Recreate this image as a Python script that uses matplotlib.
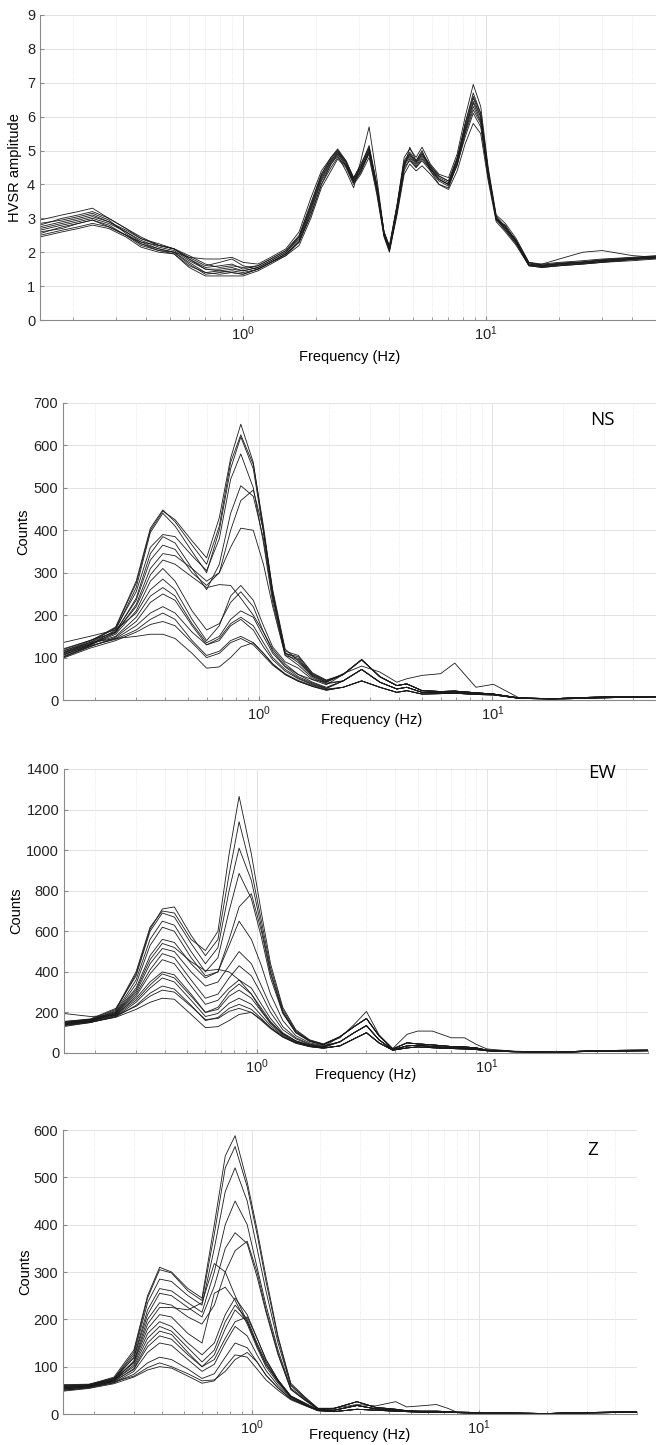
import matplotlib
matplotlib.use("Agg")
import matplotlib.pyplot as plt
from matplotlib.ticker import LogLocator, NullFormatter

plt.rcParams['font.family'] = ['Liberation Sans', 'DejaVu Sans']

# ---------------- HVSR (panneau du haut) ----------------
freq_hv = [0.146, 0.18, 0.21, 0.24, 0.28, 0.33, 0.38, 0.45, 0.52, 0.6, 0.7, 0.8, 0.9, 1.0,
           1.15, 1.3, 1.5, 1.7, 1.9, 2.1, 2.3, 2.45, 2.65, 2.85, 3.05, 3.3, 3.55, 3.8, 4.0,
           4.3, 4.6, 4.85, 5.15, 5.45, 5.9, 6.4, 7.0, 7.6, 8.2, 8.85, 9.5, 10.2, 11.0, 12.0,
           13.3, 15.0, 17, 20, 25, 30, 40, 50]

hv_a = [2.65, 2.8, 2.9, 3.0, 2.85, 2.6, 2.35, 2.15, 2.05, 1.75, 1.5, 1.5, 1.55, 1.45, 1.55, 1.75, 2.0, 2.4, 3.3, 4.2, 4.7, 4.95, 4.6, 4.1, 4.4, 5.0, 3.9, 2.55, 2.1, 3.3, 4.6, 4.85, 4.6, 4.85, 4.5, 4.2, 4.05, 4.7, 5.6, 6.4, 5.9, 4.3, 3.0, 2.7, 2.3, 1.65, 1.6, 1.65, 1.7, 1.75, 1.8, 1.85]
hv_b = [2.95, 3.1, 3.2, 3.3, 3.0, 2.7, 2.45, 2.2, 2.1, 1.85, 1.8, 1.8, 1.85, 1.7, 1.65, 1.85, 2.1, 2.6, 3.6, 4.4, 4.8, 5.0, 4.7, 4.2, 4.6, 5.1, 4.0, 2.6, 2.2, 3.4, 4.8, 5.05, 4.8, 5.1, 4.6, 4.3, 4.2, 4.9, 6.0, 6.95, 6.3, 4.5, 3.1, 2.85, 2.4, 1.7, 1.65, 1.7, 1.75, 1.8, 1.85, 1.9]
hv_c = [2.45, 2.6, 2.7, 2.8, 2.7, 2.45, 2.15, 2.0, 1.95, 1.55, 1.3, 1.3, 1.3, 1.3, 1.45, 1.65, 1.9, 2.2, 3.0, 3.9, 4.4, 4.75, 4.5, 4.0, 4.3, 4.8, 3.7, 2.45, 2.0, 3.1, 4.3, 4.6, 4.4, 4.55, 4.3, 4.0, 3.85, 4.4, 5.2, 5.8, 5.5, 4.1, 2.9, 2.6, 2.2, 1.6, 1.55, 1.6, 1.65, 1.7, 1.75, 1.8]
hv_d = [2.85, 2.95, 3.05, 3.15, 2.95, 2.55, 2.25, 2.1, 2.0, 1.85, 1.6, 1.7, 1.8, 1.6, 1.5, 1.7, 1.95, 2.3, 3.1, 4.0, 4.6, 4.85, 4.4, 3.9, 4.7, 5.7, 4.2, 2.6, 2.05, 3.2, 4.5, 5.1, 4.7, 5.0, 4.4, 4.0, 3.9, 4.6, 5.8, 6.7, 6.1, 4.4, 2.95, 2.8, 2.3, 1.6, 1.65, 1.8, 2.0, 2.05, 1.9, 1.85]
hv_e = [2.55, 2.75, 2.85, 2.95, 2.8, 2.5, 2.3, 2.1, 2.0, 1.7, 1.4, 1.35, 1.4, 1.35, 1.5, 1.7, 1.95, 2.3, 3.2, 4.1, 4.6, 4.9, 4.55, 4.05, 4.35, 4.95, 3.85, 2.5, 2.05, 3.2, 4.5, 4.7, 4.5, 4.7, 4.4, 4.1, 3.95, 4.6, 5.4, 6.1, 5.7, 4.2, 3.0, 2.65, 2.25, 1.6, 1.55, 1.6, 1.65, 1.7, 1.78, 1.82]
hv_f = [2.75, 2.9, 3.0, 3.1, 2.9, 2.65, 2.4, 2.25, 2.1, 1.8, 1.55, 1.6, 1.65, 1.5, 1.6, 1.8, 2.05, 2.5, 3.45, 4.3, 4.75, 5.0, 4.65, 4.15, 4.5, 5.05, 3.95, 2.6, 2.15, 3.35, 4.7, 4.95, 4.7, 4.95, 4.55, 4.25, 4.1, 4.8, 5.8, 6.6, 6.1, 4.4, 3.05, 2.75, 2.35, 1.7, 1.62, 1.68, 1.72, 1.78, 1.84, 1.88]
hv_g = [2.6, 2.7, 2.85, 2.95, 2.75, 2.5, 2.2, 2.05, 2.0, 1.65, 1.35, 1.4, 1.45, 1.4, 1.5, 1.7, 1.9, 2.3, 3.1, 4.0, 4.5, 4.8, 4.55, 4.05, 4.4, 4.9, 3.8, 2.5, 2.05, 3.2, 4.4, 4.75, 4.5, 4.75, 4.45, 4.15, 4.0, 4.55, 5.5, 6.2, 5.8, 4.25, 3.0, 2.7, 2.3, 1.62, 1.58, 1.63, 1.68, 1.73, 1.8, 1.84]
hv_h = [2.7, 2.85, 2.95, 3.05, 2.9, 2.6, 2.3, 2.2, 2.1, 1.9, 1.65, 1.55, 1.6, 1.55, 1.6, 1.8, 2.05, 2.45, 3.4, 4.3, 4.8, 5.05, 4.7, 4.2, 4.55, 5.15, 4.0, 2.6, 2.15, 3.4, 4.65, 4.9, 4.65, 4.9, 4.5, 4.15, 4.0, 4.75, 5.7, 6.55, 6.0, 4.35, 3.0, 2.75, 2.35, 1.68, 1.62, 1.66, 1.71, 1.76, 1.82, 1.86]
hv_i = [2.5, 2.65, 2.75, 2.85, 2.75, 2.5, 2.25, 2.05, 1.95, 1.6, 1.4, 1.45, 1.4, 1.35, 1.5, 1.7, 1.95, 2.35, 3.25, 4.15, 4.65, 4.9, 4.55, 4.1, 4.45, 4.95, 3.85, 2.5, 2.1, 3.25, 4.55, 4.8, 4.55, 4.8, 4.45, 4.15, 4.0, 4.65, 5.55, 6.3, 5.85, 4.25, 2.95, 2.65, 2.25, 1.62, 1.57, 1.62, 1.67, 1.72, 1.79, 1.83]
hv_j = [2.8, 3.0, 3.1, 3.2, 3.0, 2.7, 2.4, 2.2, 2.1, 1.8, 1.5, 1.45, 1.5, 1.45, 1.55, 1.75, 2.0, 2.45, 3.35, 4.25, 4.7, 4.95, 4.65, 4.15, 4.5, 5.05, 3.9, 2.55, 2.1, 3.3, 4.6, 4.9, 4.65, 4.9, 4.55, 4.25, 4.1, 4.75, 5.65, 6.45, 6.0, 4.35, 3.05, 2.75, 2.3, 1.65, 1.6, 1.66, 1.7, 1.76, 1.82, 1.86]
hv_curves = [hv_a, hv_b, hv_c, hv_d, hv_e, hv_f, hv_g, hv_h, hv_i, hv_j]

# ---------------- spectres : partie basse frequence (par courbe) ----------------
freq_low = [0.145, 0.19, 0.245, 0.3, 0.345, 0.39, 0.44, 0.52, 0.6, 0.68, 0.76, 0.84,
            0.95, 1.05, 1.15, 1.3, 1.48, 1.7, 1.95]

ns_low = [
    [110, 135, 170, 275, 400, 445, 425, 375, 335, 430, 570, 650, 560, 400, 250, 110, 102, 62, 46],
    [115, 138, 172, 280, 405, 448, 420, 365, 320, 410, 560, 625, 555, 410, 255, 115, 105, 64, 47],
    [105, 130, 165, 265, 395, 440, 410, 350, 300, 400, 545, 620, 545, 395, 245, 110, 98, 60, 45],
    [120, 140, 168, 255, 360, 390, 385, 340, 305, 380, 520, 580, 500, 370, 230, 105, 95, 58, 43],
    [100, 128, 160, 240, 345, 385, 370, 310, 260, 320, 440, 505, 480, 380, 240, 110, 88, 55, 40],
    [112, 135, 162, 235, 330, 365, 355, 300, 270, 300, 400, 470, 495, 400, 260, 120, 92, 57, 42],
    [108, 132, 158, 225, 310, 345, 340, 310, 280, 300, 360, 405, 400, 320, 220, 105, 82, 52, 38],
    [118, 140, 160, 220, 295, 330, 320, 290, 265, 272, 270, 240, 200, 160, 120, 85, 60, 48, 42],
    [105, 130, 155, 210, 280, 310, 280, 210, 165, 180, 230, 255, 220, 160, 115, 80, 60, 42, 30],
    [135, 150, 165, 205, 260, 285, 260, 190, 140, 175, 245, 270, 235, 175, 125, 90, 75, 48, 36],
    [110, 132, 150, 195, 245, 265, 245, 180, 135, 150, 190, 210, 195, 150, 110, 78, 55, 40, 28],
    [100, 125, 148, 185, 230, 250, 235, 175, 130, 145, 180, 195, 175, 135, 100, 72, 52, 38, 27],
    [102, 126, 145, 175, 205, 220, 205, 160, 130, 140, 175, 190, 165, 125, 95, 68, 50, 36, 26],
    [106, 128, 143, 165, 190, 205, 190, 140, 105, 115, 140, 150, 135, 110, 85, 62, 46, 34, 24],
    [98, 122, 140, 160, 178, 185, 175, 135, 100, 110, 135, 145, 130, 105, 82, 60, 44, 32, 23],
    [115, 135, 145, 150, 155, 155, 145, 110, 75, 78, 100, 125, 135, 110, 85, 60, 44, 32, 23],
]
ns_tail_freq = [2.3, 2.76, 3.3, 3.9, 4.3, 5.0, 6.0, 6.9, 8.5, 10.1, 13, 18, 25, 35, 50]
ns_tails = {
    'high': [60, 95, 55, 34, 38, 22, 20, 21, 17, 14, 5, 3, 6, 8, 8],
    'mid': [45, 72, 42, 26, 30, 18, 18, 19, 15, 13, 4, 3, 5, 7, 8],
    'low': [30, 45, 30, 18, 22, 14, 15, 16, 13, 12, 4, 2, 4, 6, 7],
    'out': [62, 80, 66, 42, 50, 58, 62, 87, 30, 37, 5, 3, 6, 8, 8],
}
ns_pick = ['high', 'high', 'high', 'high', 'mid', 'high', 'mid', 'out',
           'mid', 'high', 'mid', 'mid', 'low', 'low', 'low', 'low']

ew_low = [
    [150, 165, 215, 400, 620, 700, 690, 560, 505, 600, 980, 1265, 980, 690, 440, 225, 115, 65, 45],
    [140, 160, 210, 390, 610, 710, 720, 580, 480, 560, 880, 1140, 900, 650, 420, 215, 110, 62, 43],
    [155, 168, 220, 380, 600, 690, 670, 540, 440, 520, 800, 1010, 850, 620, 400, 205, 105, 60, 42],
    [145, 162, 205, 360, 560, 650, 630, 500, 400, 470, 700, 885, 760, 570, 370, 195, 100, 58, 40],
    [135, 155, 200, 340, 530, 620, 600, 470, 380, 400, 560, 720, 785, 600, 390, 200, 100, 57, 40],
    [150, 165, 200, 320, 480, 560, 545, 440, 370, 400, 530, 650, 560, 430, 290, 160, 85, 50, 36],
    [145, 160, 195, 310, 460, 540, 520, 450, 405, 412, 400, 360, 290, 210, 150, 95, 60, 40, 30],
    [140, 155, 195, 300, 440, 515, 500, 400, 330, 350, 430, 500, 440, 330, 230, 130, 75, 45, 33],
    [150, 160, 190, 290, 410, 490, 470, 360, 270, 290, 370, 430, 380, 290, 200, 115, 70, 42, 30],
    [135, 150, 185, 280, 390, 460, 440, 330, 240, 260, 320, 360, 320, 240, 170, 100, 60, 38, 28],
    [155, 165, 190, 270, 350, 400, 385, 290, 200, 225, 300, 340, 290, 220, 155, 95, 58, 36, 27],
    [145, 158, 185, 260, 335, 390, 370, 280, 200, 215, 280, 310, 270, 205, 145, 90, 55, 35, 26],
    [140, 155, 180, 250, 320, 370, 350, 260, 180, 195, 245, 270, 240, 185, 135, 85, 52, 33, 25],
    [130, 150, 178, 235, 295, 330, 315, 235, 160, 175, 220, 240, 215, 170, 125, 80, 50, 32, 24],
    [195, 180, 185, 230, 280, 310, 300, 230, 165, 170, 205, 220, 200, 160, 120, 78, 48, 31, 23],
    [140, 152, 176, 215, 250, 270, 265, 190, 125, 130, 160, 190, 200, 165, 125, 80, 50, 32, 24],
]
ew_tail_freq = [2.3, 2.65, 3.0, 3.4, 3.9, 4.5, 5.0, 5.8, 7.0, 8.0, 9.0, 10.0, 13, 20, 30, 50]
ew_tails = {
    'high': [80, 130, 170, 85, 20, 50, 45, 40, 32, 30, 25, 14, 8, 4, 12, 14],
    'mid': [55, 100, 135, 65, 16, 35, 38, 32, 26, 24, 20, 12, 7, 3, 10, 12],
    'low': [35, 70, 100, 50, 14, 25, 30, 26, 22, 20, 17, 11, 6, 3, 9, 11],
    'out': [75, 140, 205, 90, 22, 92, 108, 108, 75, 75, 42, 20, 9, 4, 12, 14],
}
ew_pick = ['high', 'high', 'out', 'high', 'high', 'mid', 'mid', 'mid',
           'high', 'mid', 'mid', 'low', 'low', 'low', 'low', 'low']

z_low = [
    [60, 62, 78, 135, 250, 310, 300, 265, 245, 400, 545, 588, 490, 390, 290, 164, 65, 37, 12],
    [55, 60, 75, 130, 245, 305, 298, 260, 240, 380, 520, 565, 480, 380, 280, 160, 62, 35, 12],
    [58, 61, 74, 125, 235, 285, 280, 250, 230, 350, 470, 520, 450, 350, 260, 150, 60, 34, 11],
    [52, 58, 72, 120, 220, 265, 260, 235, 215, 300, 400, 450, 400, 310, 230, 135, 55, 32, 11],
    [62, 63, 76, 118, 210, 255, 250, 225, 205, 270, 350, 383, 360, 290, 215, 125, 52, 30, 10],
    [50, 56, 70, 112, 200, 235, 230, 205, 190, 230, 300, 345, 365, 300, 220, 128, 52, 30, 10],
    [56, 60, 72, 110, 190, 225, 225, 220, 235, 318, 300, 250, 195, 145, 105, 70, 38, 24, 9],
    [60, 62, 74, 108, 180, 210, 205, 170, 150, 255, 268, 240, 190, 140, 100, 65, 36, 22, 8],
    [54, 58, 70, 104, 170, 195, 185, 150, 125, 150, 210, 245, 210, 160, 115, 72, 38, 23, 8],
    [58, 61, 72, 100, 160, 185, 175, 140, 110, 135, 195, 230, 200, 150, 110, 70, 37, 22, 8],
    [52, 57, 68, 96, 150, 175, 168, 130, 100, 125, 180, 220, 195, 145, 105, 68, 36, 21, 8],
    [55, 59, 70, 94, 142, 165, 158, 125, 100, 115, 160, 195, 205, 160, 115, 72, 38, 22, 8],
    [50, 55, 66, 90, 130, 150, 145, 115, 90, 105, 150, 185, 165, 125, 92, 60, 34, 20, 8],
    [53, 57, 66, 84, 108, 120, 115, 95, 75, 85, 120, 150, 140, 110, 82, 55, 32, 19, 7],
    [48, 54, 64, 78, 93, 100, 97, 80, 65, 70, 100, 125, 120, 95, 72, 50, 30, 18, 7],
    [56, 60, 68, 80, 98, 108, 100, 85, 70, 72, 90, 115, 130, 110, 82, 55, 32, 19, 7],
]
z_tail_freq = [2.3, 2.9, 3.5, 4.3, 4.8, 5.5, 6.5, 7.3, 8.0, 10, 13, 20, 30, 50]
z_tails = {
    'high': [12, 26, 14, 10, 7, 6, 6, 5, 4, 3, 2, 1, 3, 5],
    'mid': [8, 18, 11, 8, 6, 5, 5, 4, 3, 2, 2, 1, 3, 4],
    'low': [5, 10, 8, 6, 5, 4, 4, 3, 3, 2, 1, 1, 2, 4],
    'out': [12, 20, 17, 26, 15, 17, 20, 12, 4, 3, 2, 1, 3, 5],
}
z_pick = ['high', 'high', 'high', 'high', 'mid', 'mid', 'out', 'mid',
          'mid', 'mid', 'low', 'mid', 'low', 'low', 'low', 'low']


def style_axes(ax, ymax, ystep):
    ax.set_xscale('log')
    ax.set_xlim(0.146, 50)
    ax.set_ylim(0, ymax)
    ax.set_yticks(range(0, ymax + 1, ystep))
    ax.xaxis.set_minor_locator(LogLocator(base=10, subs=range(2, 10), numticks=20))
    ax.xaxis.set_minor_formatter(NullFormatter())
    ax.grid(True, which='major', color='#e3e3e3', lw=0.7)
    ax.grid(True, which='minor', axis='x', color='#e3e3e3', lw=0.6, ls=':')
    ax.set_axisbelow(True)
    for s in ['top', 'right']:
        ax.spines[s].set_visible(False)
    for s in ['left', 'bottom']:
        ax.spines[s].set_color('#8a8a8a')
    ax.tick_params(which='both', direction='in', color='#8a8a8a', labelsize=10.5,
                   labelcolor='#222222')
    ax.tick_params(which='major', length=3)
    ax.tick_params(which='minor', length=2)


def spectre(ax, low, tail_freq, tails, pick):
    for vals, key in zip(low, pick):
        ax.plot(freq_low + tail_freq, vals + tails[key], color='#1a1a1a', lw=0.6)


fig = plt.figure(figsize=(6.56, 14.45), dpi=100)

ax1 = fig.add_axes([40 / 656, 1 - 320 / 1445, 616 / 656, 305 / 1445])
for c in hv_curves:
    ax1.plot(freq_hv, c, color='#1a1a1a', lw=0.6)
style_axes(ax1, 9, 1)
ax1.set_ylabel('HVSR amplitude', fontsize=10.5)
ax1.yaxis.set_label_coords(-0.03, 0.5)
ax1.set_xlabel('Frequency (Hz)', fontsize=10.5)
ax1.xaxis.set_label_coords(0.503, -0.098)

ax2 = fig.add_axes([63 / 656, 1 - 700 / 1445, 593 / 656, 297 / 1445])
spectre(ax2, ns_low, ns_tail_freq, ns_tails, ns_pick)
style_axes(ax2, 700, 100)
ax2.set_ylabel('Counts', fontsize=10.5)
ax2.yaxis.set_label_coords(-0.056, 0.566)
ax2.set_xlabel('Frequency (Hz)', fontsize=10.5)
ax2.xaxis.set_label_coords(0.52, -0.044)
ax2.text(0.91, 0.943, 'NS', transform=ax2.transAxes, fontsize=13.5,
         family=['Open Sans', 'DejaVu Sans'], ha='center', va='center')

ax3 = fig.add_axes([64 / 656, 1 - 1053 / 1445, 584 / 656, 284 / 1445])
spectre(ax3, ew_low, ew_tail_freq, ew_tails, ew_pick)
style_axes(ax3, 1400, 200)
ax3.set_ylabel('Counts', fontsize=10.5)
ax3.yaxis.set_label_coords(-0.07, 0.5)
ax3.set_xlabel('Frequency (Hz)', fontsize=10.5)
ax3.xaxis.set_label_coords(0.517, -0.053)
ax3.text(0.921, 0.986, 'EW', transform=ax3.transAxes, fontsize=13.5,
         family=['Open Sans', 'DejaVu Sans'], ha='center', va='center')

ax4 = fig.add_axes([63 / 656, 1 - 1414 / 1445, 574 / 656, 284 / 1445])
spectre(ax4, z_low, z_tail_freq, z_tails, z_pick)
style_axes(ax4, 600, 100)
ax4.set_ylabel('Counts', fontsize=10.5)
ax4.yaxis.set_label_coords(-0.054, 0.5)
ax4.set_xlabel('Frequency (Hz)', fontsize=10.5)
ax4.xaxis.set_label_coords(0.517, -0.05)
ax4.text(0.923, 0.93, 'Z', transform=ax4.transAxes, fontsize=13.5,
         family=['Open Sans', 'DejaVu Sans'], ha='center', va='center')

fig.savefig('out.png', dpi=100)
